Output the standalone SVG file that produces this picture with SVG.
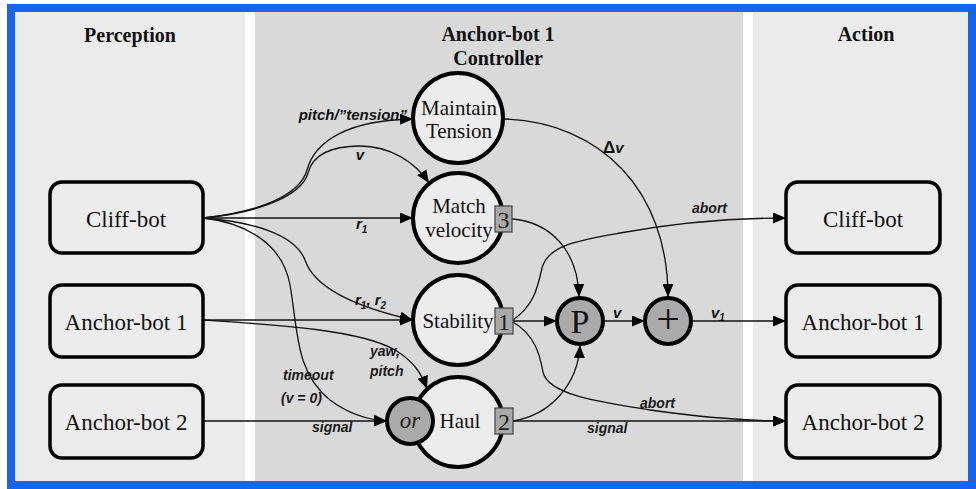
<svg xmlns="http://www.w3.org/2000/svg" width="976" height="489" viewBox="0 0 976 489">
<style>
.hdr{font-family:"Liberation Serif",serif;font-weight:bold;font-size:20px;fill:#111;text-anchor:middle}
.box{fill:#ececec;stroke:#000;stroke-width:3.5}
.btxt{font-family:"Liberation Serif",serif;font-size:23px;fill:#111;text-anchor:middle}
.circ{fill:#ececec;stroke:#000;stroke-width:4}
.gcirc{fill:#aaaaaa;stroke:#000;stroke-width:4}
.ctxt{font-family:"Liberation Serif",serif;font-size:21px;fill:#111;text-anchor:middle}
.big{font-family:"Liberation Serif",serif;font-size:34px;fill:#111;text-anchor:middle}
.orr{font-family:"Liberation Serif",serif;font-style:italic;font-size:23px;fill:#222;text-anchor:middle}
.num{fill:#a9a9a9;stroke:#444;stroke-width:1.2}
.ntxt{font-family:"Liberation Serif",serif;font-size:24px;fill:#222;text-anchor:middle}
.con{fill:none;stroke:#111;stroke-width:1.3;marker-end:url(#arr)}
.lbl{font-family:"Liberation Sans",sans-serif;font-style:italic;font-weight:bold;font-size:15px;fill:#111}
.lbn{font-family:"Liberation Sans",sans-serif;font-style:italic;font-weight:bold;font-size:14px;fill:#1a1a1a}
.sub{font-size:10px}
</style>
<defs>
<marker id="arr" markerUnits="userSpaceOnUse" markerWidth="13" markerHeight="11" refX="13" refY="5.5" orient="auto">
<path d="M0,0 L13,5.5 L0,11 z" fill="#000"/>
</marker>
</defs>
<rect x="0" y="0" width="976" height="489" fill="#ffffff"/>
<rect x="11" y="8" width="961" height="477" fill="#ffffff" stroke="#1565f0" stroke-width="8"/>
<rect x="15" y="12" width="230" height="469" fill="#ebebeb"/>
<rect x="255" y="12" width="488" height="469" fill="#d9d9d9"/>
<rect x="753" y="12" width="215" height="469" fill="#ebebeb"/>
<text class="hdr" x="130" y="42">Perception</text>
<text class="hdr" x="498" y="41">Anchor-bot 1</text>
<text class="hdr" x="498" y="65">Controller</text>
<text class="hdr" x="866" y="41">Action</text>

<g id="connectors">
<path class="con" d="M203,218 C260,212 300,195 307,170 C315,140 350,120 413,119"/>
<path class="con" d="M203,218 C260,213 302,195 308,173 C314,150 340,146 360,146 C390,146 415,162 429,183"/>
<path class="con" d="M203,218 L413,218"/>
<path class="con" d="M203,218 C255,222 295,235 305,260 C315,290 360,308 413,320"/>
<path class="con" d="M203,218 C240,222 282,240 290,285 C298,330 295,372 330,400 C350,415 370,420 387,421"/>
<path class="con" d="M203,320 L413,320"/>
<path class="con" d="M203,320 C280,325 360,330 395,350 C415,362 422,375 427,389"/>
<path class="con" d="M203,421 L387,421"/>
<path class="con" d="M504,119 C600,122 668,190 668,297"/>
<path class="con" d="M512,219 C550,222 578,250 579,297"/>
<path class="con" d="M513,321 L557,321"/>
<path class="con" d="M603,321 L645,321"/>
<path class="con" d="M692,321 L786,321"/>
<path class="con" d="M513,421 C550,415 578,385 580,345"/>
<path class="con" d="M513,421 L786,421"/>
<path class="con" d="M513,320 C535,305 538,285 542,268 C548,245 580,240 620,233 C680,222 740,218 786,218"/>
<path class="con" d="M513,322 C535,335 540,355 543,372 C548,395 600,402 650,410 C700,417 740,421 786,421"/>
</g>

<g id="edge-labels">
<text class="lbl" x="407" y="120" text-anchor="end">pitch/”tension”</text>
<text class="lbl" x="360" y="160" text-anchor="middle">v</text>
<text class="lbl" x="356" y="229">r<tspan class="sub" dy="4">1</tspan></text>
<text class="lbl" x="355" y="305">r<tspan class="sub" dy="4">1</tspan><tspan dy="-4">, r</tspan><tspan class="sub" dy="4">2</tspan></text>
<text class="lbn" x="283" y="380">timeout</text>
<text class="lbn" x="281" y="403">(v = 0)</text>
<text class="lbn" x="370" y="356">yaw,</text>
<text class="lbn" x="370" y="376">pitch</text>
<text class="lbn" x="312" y="432">signal</text>
<text class="lbl" x="603" y="153"><tspan font-style="normal" font-size="17px">Δ</tspan>v</text>
<text class="lbn" x="692" y="213">abort</text>
<text class="lbl" x="613" y="318">v</text>
<text class="lbl" x="711" y="318">v<tspan class="sub" dy="3">1</tspan></text>
<text class="lbn" x="640" y="408">abort</text>
<text class="lbn" x="587" y="433">signal</text>
</g>

<g id="in-cliff-bot"><rect class="box" x="50" y="182" width="153" height="71" rx="12"/><text class="btxt" x="126" y="227">Cliff-bot</text></g>
<g id="in-anchor-bot-1"><rect class="box" x="50" y="285" width="153" height="72" rx="12"/><text class="btxt" x="126" y="330">Anchor-bot 1</text></g>
<g id="in-anchor-bot-2"><rect class="box" x="50" y="385" width="153" height="73" rx="12"/><text class="btxt" x="126" y="430">Anchor-bot 2</text></g>
<g id="out-cliff-bot"><rect class="box" x="786" y="182" width="154" height="71" rx="12"/><text class="btxt" x="863" y="227">Cliff-bot</text></g>
<g id="out-anchor-bot-1"><rect class="box" x="786" y="285" width="154" height="72" rx="12"/><text class="btxt" x="863" y="330">Anchor-bot 1</text></g>
<g id="out-anchor-bot-2"><rect class="box" x="786" y="385" width="154" height="73" rx="12"/><text class="btxt" x="863" y="430">Anchor-bot 2</text></g>

<g id="maintain-tension"><circle class="circ" cx="458" cy="118" r="45"/><text class="ctxt" x="459" y="115">Maintain</text><text class="ctxt" x="459" y="138">Tension</text></g>
<g id="match-velocity"><circle class="circ" cx="458" cy="218" r="45"/><text class="ctxt" x="459" y="213">Match</text><text class="ctxt" x="459" y="237">velocity</text><rect class="num" x="495" y="206" width="17" height="26"/><text class="ntxt" x="503.5" y="228">3</text></g>
<g id="stability"><circle class="circ" cx="458" cy="320" r="45"/><text class="ctxt" x="458" y="328">Stability</text><rect class="num" x="495" y="308" width="18" height="26"/><text class="ntxt" x="504" y="330">1</text></g>
<g id="haul"><circle class="circ" cx="458" cy="422" r="45"/><text class="ctxt" x="460" y="428">Haul</text><rect class="num" x="495" y="408" width="18" height="26"/><text class="ntxt" x="504" y="430">2</text></g>
<g id="or"><circle class="gcirc" cx="410" cy="421" r="23"/><text class="orr" x="410" y="428">or</text></g>
<g id="p"><circle class="gcirc" cx="580" cy="321" r="23"/><text class="big" x="580" y="333">P</text></g>
<g id="plus"><circle class="gcirc" cx="668" cy="321" r="23"/><text class="big" x="668" y="333" style="font-size:42px">+</text></g>
</svg>
